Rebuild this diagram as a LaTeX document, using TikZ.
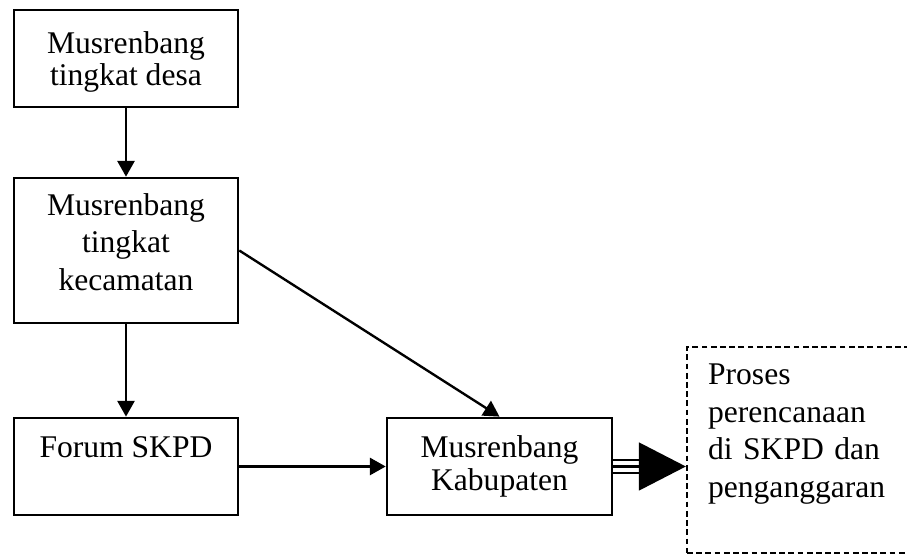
\documentclass[tikz,border=0pt]{standalone}
\usepackage{fontspec}
\setmainfont{Liberation Serif}
\usetikzlibrary{arrows.meta,positioning}

\begin{document}
\begin{tikzpicture}[x=0.38pt,y=-0.38pt,
	box/.style={draw, line width=1pt, minimum width=85.1pt, inner sep=0pt, align=center, font=\fontsize{12}{14.2}\selectfont},
	link/.style={line width=0.9pt, -{Triangle[length=6pt,width=6.5pt]}}]
		% Frame
		\useasboundingbox (0,0) rectangle (907,556);

		% Boxes
		\node[box, minimum height=36.9pt, text depth=0pt, font=\fontsize{12}{10.1}\selectfont] (desa) at (126,58.5) {Musrenbang\\tingkat desa};
		\node[box, minimum height=55.1pt, text depth=6.7pt] (kec) at (126,250.5) {Musrenbang\\tingkat\\kecamatan};
		\node[box, minimum height=36.9pt, text height=8pt, text depth=14.6pt] (forum) at (126,466.5) {Forum SKPD};
		\node[box, minimum width=85.5pt, minimum height=36.9pt, font=\fontsize{12}{12.3}\selectfont] (kab) at (499.5,466.5) {Musrenbang\\Kabupaten};
		\node[box, dashed, dash pattern=on 2.2pt off 1.3pt, line width=0.9pt, minimum width=94.2pt, minimum height=78.3pt,
			inner xsep=8pt, text width=78.2pt, text depth=57.3pt, align=left] (proc) at (811,450) {Proses\\perencanaan\\di SKPD dan\\penganggaran};

		% Arrows
		\draw[link] (desa) -- (kec);
		\draw[link] (kec) -- (forum);
		\draw[link] (kec.east) -- (kab.north);
		\draw[link] (forum) -- (kab);

		% Triple line to the planning process
		\draw[line width=0.9pt, -{Triangle[length=17.9pt,width=18.2pt]}] (kab.east) -- (kab.east -| proc.west);
		\draw[line width=0.9pt] ([yshift=2.5pt]kab.east) -- ++(28,0);
		\draw[line width=0.9pt] ([yshift=-2.5pt]kab.east) -- ++(28,0);
	\end{tikzpicture}
\end{document}
